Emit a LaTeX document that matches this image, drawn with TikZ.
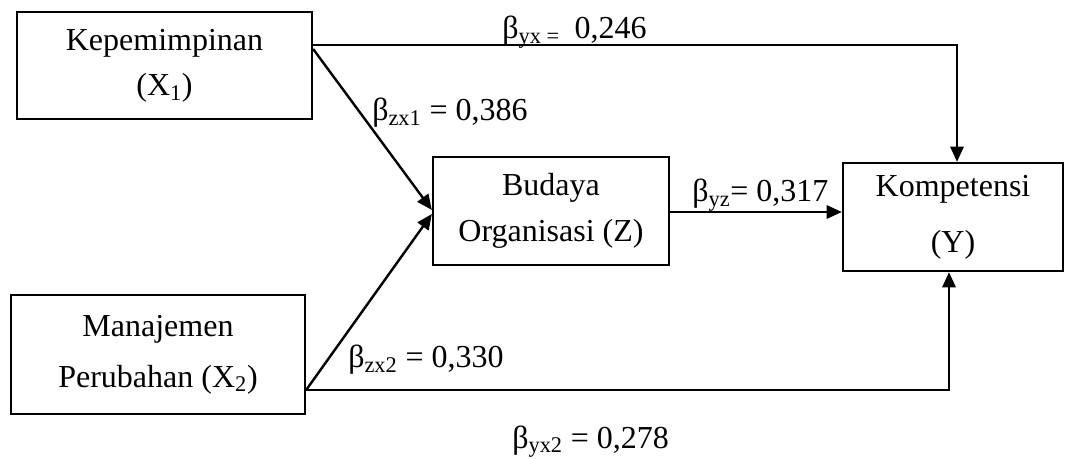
\documentclass[tikz,border=0pt]{standalone}
\usepackage{fontspec}
\setmainfont{Liberation Serif}
\usetikzlibrary{arrows.meta}
\begin{document}
\begin{tikzpicture}[x=0.75pt,y=-0.75pt,
  box/.style={draw,line width=1.7pt,rectangle,align=center,inner sep=0pt},
  arr/.style={line width=1.8pt,-{Triangle[length=11.5pt,width=10pt]}},
  lbl/.style={anchor=base west,inner sep=0pt,font=\fontsize{24}{28}\selectfont}]
\useasboundingbox (0,0) rectangle (1070,459);
\node[box,minimum width=221.25pt,minimum height=80.25pt,font=\fontsize{24}{34}\selectfont] (x1) at (164.5,65.5) {Kepemimpinan\\(X\textsubscript{1})};
\node[box,minimum width=220.5pt,minimum height=89.25pt,font=\fontsize{24}{38}\selectfont] (x2) at (158,354.5) {Manajemen\\Perubahan (X\textsubscript{2})};
\node[box,minimum width=177pt,minimum height=81pt,font=\fontsize{24}{34}\selectfont] (z) at (551,211) {Budaya\\Organisasi (Z)};
\node[box,minimum width=165pt,minimum height=81pt,font=\fontsize{24}{42}\selectfont] (y) at (953,217) {Kompetensi\\(Y)};
\coordinate (c1) at (957,45);
\coordinate (c2) at (949,390);
\draw[arr] (x1.east |- c1) -- (c1) -- (c1 |- y.north);
\draw[arr] (x1.east |- 0,49) -- (z.west |- 0,210);
\draw[arr] (x2.east |- c2) -- (z.west |- 0,214);
\draw[arr] (x2.east |- c2) -- (c2) -- (c2 |- y.south);
\draw[arr] (z.east |- 0,212) -- (y.west |- 0,212);
\node[lbl] (l1) at (502,39) {β\textsubscript{yx =}\hspace{11pt}0,246};
\node[lbl] (l2) at (372,121) {β\textsubscript{zx1} = 0,386};
\node[lbl] (l3) at (692,202) {β\textsubscript{yz}= 0,317};
\node[lbl] (l4) at (348,368) {β\textsubscript{zx2} = 0,330};
\node[lbl] (l5) at (512,448) {β\textsubscript{yx2} = 0,278};
\end{tikzpicture}
\end{document}
